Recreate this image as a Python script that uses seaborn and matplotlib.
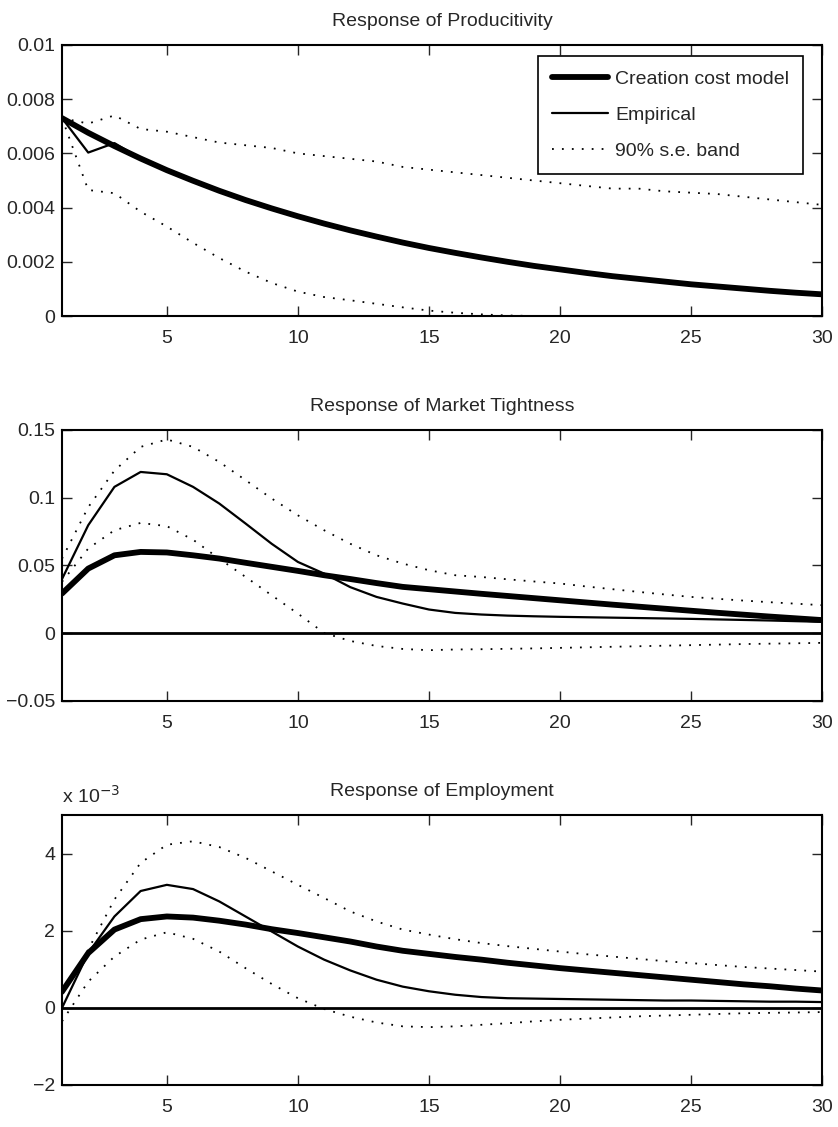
import numpy as np
import pandas as pd
import matplotlib
matplotlib.use('Agg')
import matplotlib.pyplot as plt
import seaborn as sns

# horizon (periods after the shock)
periods = list(range(1, 31))

# --- Response of productivity ---
prod_model = [0.00730, 0.00676, 0.00627, 0.00581, 0.00538, 0.00499, 0.00462, 0.00428, 0.00397, 0.00368,
              0.00341, 0.00316, 0.00293, 0.00271, 0.00251, 0.00233, 0.00216, 0.00200, 0.00185, 0.00172,
              0.00159, 0.00147, 0.00137, 0.00127, 0.00117, 0.00109, 0.00101, 0.00093, 0.00086, 0.00080]
prod_emp = [0.00730, 0.00603, 0.00638, 0.00581, 0.00538, 0.00499, 0.00462, 0.00428, 0.00397, 0.00368,
            0.00341, 0.00316, 0.00293, 0.00271, 0.00251, 0.00233, 0.00216, 0.00200, 0.00185, 0.00172,
            0.00159, 0.00147, 0.00137, 0.00127, 0.00117, 0.00109, 0.00101, 0.00093, 0.00086, 0.00080]
prod_hi = [0.0073, 0.0071, 0.0074, 0.0069, 0.0068, 0.0066, 0.0064, 0.0063, 0.0062, 0.0060,
           0.0059, 0.0058, 0.0057, 0.0055, 0.0054, 0.0053, 0.0052, 0.0051, 0.0050, 0.0049,
           0.0048, 0.0047, 0.0047, 0.0046, 0.00455, 0.0045, 0.0044, 0.0043, 0.0042, 0.0041]
prod_lo = [0.0073, 0.00465, 0.00453, 0.00385, 0.0033, 0.0027, 0.00214, 0.00164, 0.00122, 0.0009,
           0.0007, 0.00058, 0.00045, 0.00032, 0.0002, 0.00012, 0.00006, 0.00002, 0.0, 0.0,
           0.0, 0.0, 0.0, 0.0, 0.0, 0.0, 0.0, 0.0, 0.0, 0.0]

# --- Response of market tightness ---
tight_model = [0.0293, 0.0477, 0.0575, 0.0600, 0.0596, 0.0575, 0.0551, 0.0520, 0.0490, 0.0460,
               0.0428, 0.0400, 0.0370, 0.0342, 0.0325, 0.0308, 0.0291, 0.0275, 0.0259, 0.0243,
               0.0227, 0.0211, 0.0196, 0.0181, 0.0166, 0.0151, 0.0137, 0.0123, 0.0110, 0.0097]
tight_emp = [0.0400, 0.0797, 0.1080, 0.1190, 0.1173, 0.1080, 0.0957, 0.0810, 0.0660, 0.0526,
             0.0440, 0.0340, 0.0268, 0.0219, 0.0175, 0.0150, 0.0138, 0.0130, 0.0125, 0.0121,
             0.0118, 0.0115, 0.0112, 0.0109, 0.0106, 0.0102, 0.0098, 0.0094, 0.0089, 0.0084]
tight_hi = [0.0550, 0.0930, 0.1200, 0.1375, 0.1430, 0.1375, 0.1264, 0.1130, 0.0994, 0.0870,
            0.0760, 0.0660, 0.0575, 0.0514, 0.0465, 0.0428, 0.0415, 0.0398, 0.0382, 0.0367,
            0.0345, 0.0325, 0.0305, 0.0286, 0.0268, 0.0254, 0.0241, 0.0229, 0.0218, 0.0207]
tight_lo = [0.0380, 0.0625, 0.0760, 0.0814, 0.0790, 0.0690, 0.0550, 0.0416, 0.0280, 0.0145,
            0.0002, -0.0057, -0.0094, -0.0116, -0.0125, -0.0120, -0.0118, -0.0115, -0.0112, -0.0108,
            -0.0104, -0.0100, -0.0096, -0.0092, -0.0088, -0.0084, -0.0080, -0.0077, -0.0074, -0.0071]

# --- Response of employment (units of 1e-3) ---
emp_model = [0.42, 1.42, 2.03, 2.30, 2.37, 2.34, 2.26, 2.16, 2.04, 1.94,
             1.83, 1.72, 1.59, 1.48, 1.40, 1.32, 1.25, 1.17, 1.10, 1.03,
             0.97, 0.91, 0.85, 0.79, 0.73, 0.67, 0.61, 0.56, 0.50, 0.45]
emp_emp = [0.00, 1.42, 2.37, 3.03, 3.19, 3.08, 2.76, 2.37, 1.98, 1.59,
           1.25, 0.97, 0.73, 0.55, 0.43, 0.34, 0.28, 0.25, 0.24, 0.23,
           0.22, 0.21, 0.20, 0.19, 0.19, 0.18, 0.17, 0.16, 0.16, 0.15]
emp_hi = [0.35, 1.51, 2.81, 3.76, 4.23, 4.32, 4.17, 3.89, 3.54, 3.19,
          2.85, 2.50, 2.24, 2.03, 1.90, 1.78, 1.68, 1.60, 1.53, 1.46,
          1.39, 1.33, 1.27, 1.21, 1.16, 1.11, 1.06, 1.02, 0.98, 0.94]
emp_lo = [-0.35, 0.68, 1.33, 1.77, 1.96, 1.79, 1.46, 1.03, 0.62, 0.25,
          -0.03, -0.23, -0.38, -0.48, -0.50, -0.48, -0.44, -0.40, -0.35, -0.31,
          -0.28, -0.25, -0.22, -0.20, -0.18, -0.16, -0.14, -0.13, -0.12, -0.11]

titles = ['Response of Producitivity', 'Response of Market Tightness', 'Response of Employment']
legend_labels = ['Creation cost model', 'Empirical', '90% s.e. band']

sns.set_style('ticks')
plt.rcParams['font.family'] = ['Liberation Sans', 'DejaVu Sans']
plt.rcParams['font.size'] = 14

fig = plt.figure(figsize=(8.38, 11.27), dpi=100)
# axes boxes in figure fractions (left, bottom, width, height)
boxes = [[0.074, 0.7196, 0.907, 0.2405],
         [0.074, 0.378, 0.907, 0.2405],
         [0.074, 0.0373, 0.907, 0.2395]]

panels = [
    (prod_model, prod_emp, prod_hi, prod_lo, (0, 0.01),
     [0, 0.002, 0.004, 0.006, 0.008, 0.01], ['0', '0.002', '0.004', '0.006', '0.008', '0.01'], False),
    (tight_model, tight_emp, tight_hi, tight_lo, (-0.05, 0.15),
     [-0.05, 0, 0.05, 0.1, 0.15], ['\u22120.05', '0', '0.05', '0.1', '0.15'], True),
    (emp_model, emp_emp, emp_hi, emp_lo, (-2, 5),
     [-2, 0, 2, 4], ['\u22122', '0', '2', '4'], True),
]

dots = (0, (1, 4.5))
axes = []
for i, (mod, emp, hi, lo, ylim, yt, ytl, zero) in enumerate(panels):
    ax = fig.add_axes(boxes[i])
    df = pd.DataFrame({'t': periods, 'model': mod, 'emp': emp, 'hi': hi, 'lo': lo})
    if zero:
        ax.axhline(0, color='k', lw=2.0, zorder=1)
    sns.lineplot(data=df, x='t', y='hi', ax=ax, color='k', lw=1.3, linestyle=dots,
                 label=legend_labels[2] if i == 0 else None)
    sns.lineplot(data=df, x='t', y='lo', ax=ax, color='k', lw=1.3, linestyle=dots)
    sns.lineplot(data=df, x='t', y='emp', ax=ax, color='k', lw=1.6,
                 label=legend_labels[1] if i == 0 else None)
    sns.lineplot(data=df, x='t', y='model', ax=ax, color='k', lw=4.2,
                 label=legend_labels[0] if i == 0 else None)
    ax.set_xlim(1, 30)
    ax.set_ylim(*ylim)
    ax.set_xticks([5, 10, 15, 20, 25, 30])
    ax.set_yticks(yt)
    ax.set_yticklabels(ytl)
    ax.set_xlabel('')
    ax.set_ylabel('')
    ax.tick_params(direction='in', length=7, width=1.0, top=True, right=True, labelsize=14)
    ax.tick_params(axis='x', pad=10)
    ax.tick_params(axis='y', pad=5)
    for s in ax.spines.values():
        s.set_linewidth(1.5)
        s.set_color('k')
    ax.set_title(titles[i], fontsize=14, pad=14)
    axes.append(ax)

# legend order: model, empirical, band
h, l = axes[0].get_legend_handles_labels()
order = [l.index(n) for n in legend_labels]
leg = axes[0].legend([h[k] for k in order], [l[k] for k in order], loc='upper right',
                     bbox_to_anchor=(0.975, 0.959), borderaxespad=0, fancybox=False,
                     framealpha=1, edgecolor='k', fontsize=14, handlelength=2.9,
                     handletextpad=0.35, labelspacing=0.95, borderpad=0.72)
leg.get_frame().set_linewidth(1.2)

axes[2].annotate(r'x 10$^{-3}$', xy=(0, 1), xycoords='axes fraction', xytext=(0, 9),
                 textcoords='offset points', ha='left', va='baseline', fontsize=14)

fig.savefig('out.png', dpi=100)
